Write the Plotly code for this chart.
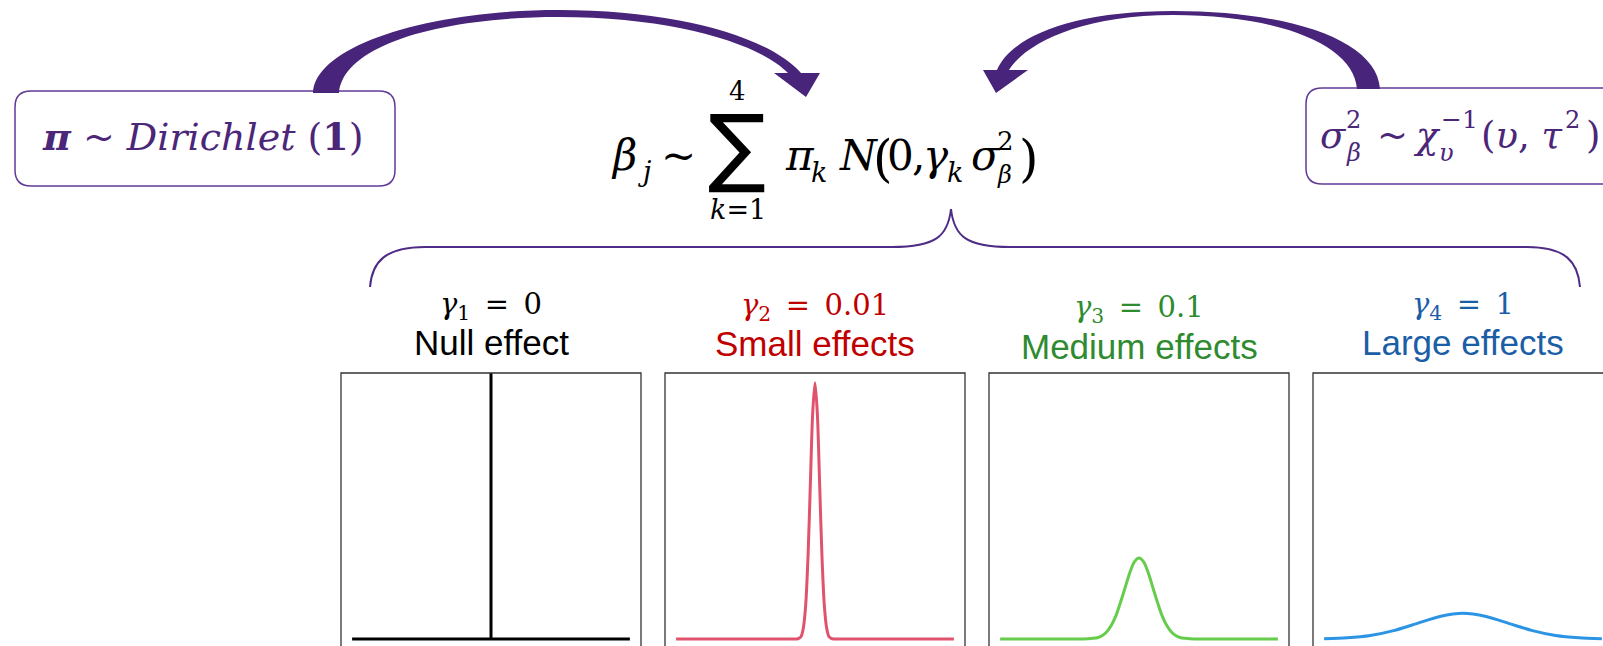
import plotly.graph_objects as go

# ---------------- data ----------------
gamma_labels = ["0", "0.01", "0.1", "1"]
effect_labels = ["Null effect", "Small effects", "Medium effects", "Large effects"]

null_base_x = [-3.0, 3.0]
null_base_y = [0.0, 0.0]
null_spike_x = [0.0, 0.0]
null_spike_y = [0.0, 5.0]

small_x = [-3.0, -1.5, -0.45, -0.4, -0.35, -0.3, -0.25, -0.2, -0.15, -0.1, -0.05, 0.0,
           0.05, 0.1, 0.15, 0.2, 0.25, 0.3, 0.35, 0.4, 0.45, 1.5, 3.0]
small_y = [0.0, 0.0, 0.0, 0.0, 0.01, 0.04, 0.18, 0.54, 1.30, 2.42, 3.52, 3.99,
           3.52, 2.42, 1.30, 0.54, 0.18, 0.04, 0.01, 0.0, 0.0, 0.0, 0.0]

medium_x = [-3.0, -2.0, -1.4, -1.2, -1.0, -0.9, -0.8, -0.7, -0.6, -0.5, -0.4, -0.3, -0.2, -0.1, 0.0,
            0.1, 0.2, 0.3, 0.4, 0.5, 0.6, 0.7, 0.8, 0.9, 1.0, 1.2, 1.4, 2.0, 3.0]
medium_y = [0.0, 0.0, 0.0, 0.0, 0.01, 0.02, 0.05, 0.11, 0.21, 0.36, 0.57, 0.80, 1.03, 1.20, 1.26,
            1.20, 1.03, 0.80, 0.57, 0.36, 0.21, 0.11, 0.05, 0.02, 0.01, 0.0, 0.0, 0.0, 0.0]

large_x = [-3.0, -2.5, -2.0, -1.5, -1.0, -0.5, 0.0, 0.5, 1.0, 1.5, 2.0, 2.5, 3.0]
large_y = [0.004, 0.018, 0.054, 0.13, 0.24, 0.35, 0.40, 0.35, 0.24, 0.13, 0.054, 0.018, 0.004]

# ---------------- geometry helpers (pixels -> paper) ----------------
W, H = 1603, 646


def px(x):
    return x / W


def py(y):
    return 1 - y / H


def path(cmds):
    out = []
    for c in cmds:
        op = c[0]
        pts = c[1:]
        s = op
        for (x, y) in pts:
            s += " %.5f,%.5f" % (px(x), py(y))
        out.append(s)
    return " ".join(out)


def rrect(x0, y0, x1, y1, r):
    return path([
        ("M", (x0 + r, y0)), ("L", (x1 - r, y0)), ("Q", (x1, y0), (x1, y0 + r)),
        ("L", (x1, y1 - r)), ("Q", (x1, y1), (x1 - r, y1)), ("L", (x0 + r, y1)),
        ("Q", (x0, y1), (x0, y1 - r)), ("L", (x0, y0 + r)), ("Q", (x0, y0), (x0 + r, y0)),
    ]) + " Z"


SERIF = "DejaVu Serif"
SANS = "Liberation Sans, Arial, sans-serif"
PURPLE = "#4B2679"
annotations = []


def label(x, base, text, size, color, family=SERIF, xanchor="left", k=0.346):
    cy = base - k * size
    annotations.append(dict(
        x=px(x), y=py(cy), xref="paper", yref="paper", text=text, showarrow=False,
        font=dict(size=size, color=color, family=family), xanchor=xanchor, yanchor="middle",
        borderpad=0,
    ))


fig = go.Figure()

# ---------------- panels ----------------
panels = [(341, 641), (665, 965), (989, 1289), (1313, 1613)]
PTOP = 373
UNIT_X = 300 / 6.48
YR = [-0.109, 4.143]
curve_colors = ["#000000", "#E0536C", "#66CC4C", "#2B94E4"]
text_colors = ["#000000", "#C00000", "#2E8B30", "#1B5EA6"]
curves = [None, (small_x, small_y), (medium_x, medium_y), (large_x, large_y)]

layout_axes = {}
for i, (l, r) in enumerate(panels):
    n = "" if i == 0 else str(i + 1)
    rr = min(r, W)
    x_hi = -3.24 + (rr - l) / UNIT_X
    layout_axes["xaxis" + n] = dict(domain=[px(l), px(rr)], range=[-3.24, x_hi], visible=False,
                                    anchor="y" + n, fixedrange=True)
    layout_axes["yaxis" + n] = dict(domain=[0, py(PTOP)], range=YR, visible=False,
                                    anchor="x" + n, fixedrange=True)
    xa, ya = "x" + n, "y" + n
    if i == 0:
        fig.add_trace(go.Scatter(x=null_base_x, y=null_base_y, mode="lines",
                                 line=dict(color=curve_colors[0], width=3), xaxis=xa, yaxis=ya,
                                 hoverinfo="skip", showlegend=False))
        fig.add_trace(go.Scatter(x=null_spike_x, y=null_spike_y, mode="lines",
                                 line=dict(color=curve_colors[0], width=3), xaxis=xa, yaxis=ya,
                                 hoverinfo="skip", showlegend=False))
    else:
        cx, cyv = curves[i]
        fig.add_trace(go.Scatter(x=cx, y=cyv, mode="lines",
                                 line=dict(color=curve_colors[i], width=3, shape="spline", smoothing=0.8),
                                 xaxis=xa, yaxis=ya, hoverinfo="skip", showlegend=False))

shapes = []
for (l, r) in panels:
    shapes.append(dict(type="rect", xref="paper", yref="paper", x0=px(l), x1=px(r),
                       y0=py(PTOP), y1=py(720), line=dict(color="#333333", width=1.3),
                       fillcolor="rgba(0,0,0,0)", layer="above"))

# panel titles
centers = [491, 815, 1139, 1463]
g_base = [313, 314, 316, 313]
e_base = [355, 356, 359, 355]
for i in range(4):
    label(centers[i], g_base[i],
          "<i>γ</i><sub>%d</sub>\u2002=\u2002%s" % (i + 1, gamma_labels[i]), 29,
          text_colors[i], SERIF, "center", k=0.25)
    label(centers[i], e_base[i], effect_labels[i], 35, text_colors[i], SANS, "center")

# ---------------- boxes ----------------
shapes.append(dict(type="path", xref="paper", yref="paper", path=rrect(15, 91, 395, 186, 16),
                   line=dict(color="#603A95", width=1.5), fillcolor="white"))
shapes.append(dict(type="path", xref="paper", yref="paper", path=rrect(1306, 88, 1640, 184, 16),
                   line=dict(color="#603A95", width=1.5), fillcolor="white"))

label(203, 150, "<b><i>π</i></b> ~ <i>Dirichlet</i> (<b>1</b>)", 38, PURPLE, SERIF, "center")

# right box formula
label(1319, 148, "<i>σ</i>", 37, PURPLE)
label(1345, 128, "2", 24, PURPLE)
label(1345, 161, "<i>β</i>", 24, PURPLE)
label(1376, 148, "~", 37, PURPLE)
label(1412, 148, "<i>χ</i>", 37, PURPLE)
label(1440, 128, "−1", 25, PURPLE)
label(1438, 161, "<i>υ</i>", 24, PURPLE)
label(1480, 148, "(<i>υ</i>, <i>τ</i>", 37, PURPLE)
label(1564, 128, "2", 24, PURPLE)
label(1585, 148, ")", 37, PURPLE)

# ---------------- central formula ----------------
K = "#000000"
label(610, 170, "<i>β</i>", 42, K)
label(637, 181, "<i>j</i>", 27, K)
label(660, 170, "~", 42, K)
label(737, 176, "∑", 86, K, "DejaVu Sans", "center")
label(737, 100, "4", 26, K, SERIF, "center")
label(738, 219, "<i>k</i>=1", 27, K, SERIF, "center")
label(784, 170, "<i>π</i>", 42, K)
label(810, 182, "<i>k</i>", 27, K)
label(838, 170, "<i>N</i>", 42, K)
label(872, 176, "(", 50, K)
label(886, 170, "0", 42, K)
label(911, 170, ",", 42, K)
label(922, 170, "<i>γ</i>", 42, K)
label(946, 182, "<i>k</i>", 27, K)
label(970, 170, "<i>σ</i>", 42, K)
label(996, 150, "2", 26, K)
label(996, 183, "<i>β</i>", 24, K)
label(1018, 176, ")", 50, K)

# ---------------- arrows ----------------
ARROW = "#48247A"
left_arrow = path([
    ("M", (313, 93)), ("C", (315, 45), (430, 10), (559, 10)),
    ("C", (680, 10), (770, 38), (801, 73)),
    ("L", (820, 73)), ("L", (806, 97)), ("L", (774, 73)), ("L", (788, 73)),
    ("C", (760, 44), (675, 17), (559, 17)),
    ("C", (440, 17), (343, 45), (339, 93)),
]) + " Z"
right_arrow = path([
    ("M", (1380, 89)), ("C", (1377, 40), (1290, 11), (1173, 11)),
    ("C", (1070, 11), (1010, 38), (997, 70)),
    ("L", (983, 70)), ("L", (996, 93)), ("L", (1028, 70)), ("L", (1009, 70)),
    ("C", (1025, 44), (1080, 15), (1173, 15)),
    ("C", (1280, 15), (1354, 45), (1357, 89)),
]) + " Z"
shapes.append(dict(type="path", xref="paper", yref="paper", path=left_arrow,
                   fillcolor=ARROW, line=dict(width=0)))
shapes.append(dict(type="path", xref="paper", yref="paper", path=right_arrow,
                   fillcolor=ARROW, line=dict(width=0)))

# ---------------- brace ----------------
brace = path([
    ("M", (370, 287)), ("C", (372, 262), (385, 247), (425, 247)),
    ("L", (892, 247)), ("C", (936, 247), (948, 236), (951, 209)),
    ("C", (954, 236), (966, 247), (1010, 247)),
    ("L", (1527, 247)), ("C", (1566, 247), (1578, 262), (1580, 287)),
])
shapes.append(dict(type="path", xref="paper", yref="paper", path=brace,
                   line=dict(color="#4F2C85", width=2), fillcolor="rgba(0,0,0,0)"))

fig.update_layout(
    width=W, height=H, autosize=False,
    margin=dict(l=0, r=0, t=0, b=0, pad=0),
    paper_bgcolor="white", plot_bgcolor="white",
    shapes=shapes, annotations=annotations, showlegend=False,
    **layout_axes,
)

fig.write_html("out.html", config={"displayModeBar": False})
